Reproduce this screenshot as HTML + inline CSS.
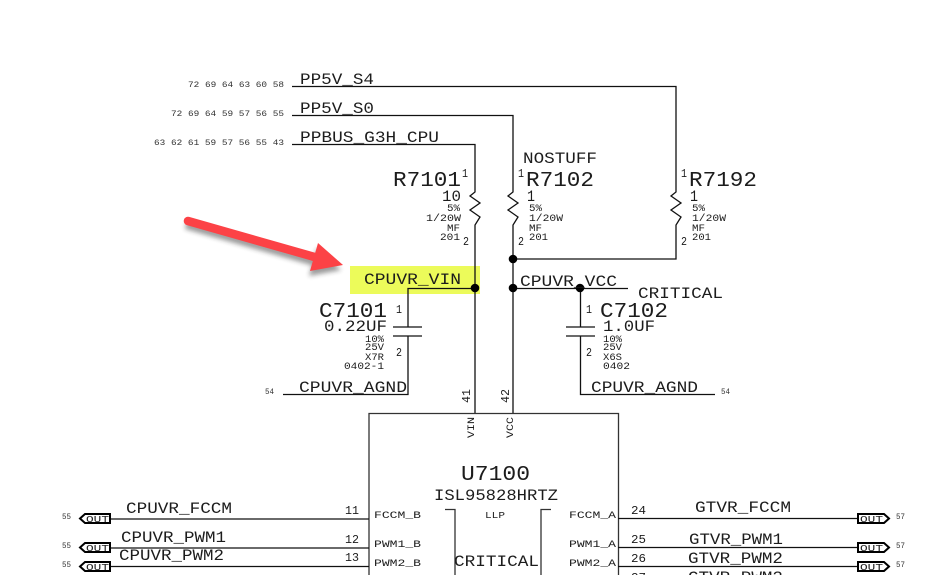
<!DOCTYPE html>
<html><head><meta charset="utf-8"><style>
html,body{margin:0;padding:0;background:#fff}
svg{display:block}
text{font-family:"Liberation Mono",monospace;fill:#1c1c1c;white-space:pre}
.l{font-size:16px}.h{font-size:21px}.s{font-size:10.5px}.t{font-size:8px;fill:#333}.p{font-size:11.5px}.o{font-size:9.5px;fill:#222}
.w{fill:none;stroke:#111;stroke-width:1.3}
.g{fill:none;stroke:#333;stroke-width:1.3}
</style></head><body>
<svg width="941" height="575" viewBox="0 0 941 575" xmlns="http://www.w3.org/2000/svg">
<defs><filter id="b" x="-10%" y="-30%" width="120%" height="160%"><feGaussianBlur stdDeviation="2.5"/></filter></defs>
<rect x="350" y="266" width="130" height="28" fill="#ecfb5a"/>
<g opacity=".45" transform="translate(-1,5)" filter="url(#b)"><path d="M187 220L316 257" stroke="#222" stroke-width="8" fill="none"/><path d="M318 243L342 265L310 271Z" fill="#222"/></g>
<path d="M188 221L318 258" stroke="#fc4246" stroke-width="8.5" stroke-linecap="round" fill="none"/>
<path d="M318 243L343 265L310 271Z" fill="#fc4246"/>

<path class="w" d="M292 86.5H676V192L671 196L681 203L671 210L681 217L676 225V259H513"/>
<path class="w" d="M292 115.5H513V192L508 196L518 203L508 210L518 217L513 225V413"/>
<path class="w" d="M292 144.5H475V192L470 196L480 203L470 210L480 217L475 225V413"/>
<path class="w" d="M475 288.5H408V327M408 336V394.5H283M393 327H422M393 336H422"/>
<path class="w" d="M513 288.5H628M580.5 288.5V327M580.5 336V394.5H715M566 327H595M566 336H595"/>
<circle cx="475" cy="288" r="4.3" fill="#000"/><circle cx="513" cy="259" r="4.3" fill="#000"/><circle cx="513" cy="288" r="4.3" fill="#000"/><circle cx="580" cy="288" r="4.3" fill="#000"/>
<path class="g" d="M369 575V413.5H618.5V575"/>
<path class="g" d="M445 509.5H455V575M551 509.5H541V575"/>
<path class="w" d="M82 519H369M82 548H369M82 566.5H369M618 518.5H860M618 547.5H860M618 566.5H860"/>

<g fill="#fff" stroke="#000" stroke-width="2">
<path d="M80 518.5L85 514H110V523H85Z"/><path d="M80 547.5L85 543H110V552H85Z"/><path d="M80 566.5L85 562H110V571H85Z"/>
<path d="M858 514H884L889 518.5L884 523H858Z"/><path d="M858 543H884L889 547.5L884 552H858Z"/><path d="M858 562H884L889 566.5L884 571H858Z"/>
</g>

<text class="t" x="188" y="87" textLength="96" lengthAdjust="spacingAndGlyphs">72 69 64 63 60 58</text>
<text class="t" x="171" y="116" textLength="113" lengthAdjust="spacingAndGlyphs">72 69 64 59 57 56 55</text>
<text class="t" x="154" y="145" textLength="130" lengthAdjust="spacingAndGlyphs">63 62 61 59 57 56 55 43</text>
<text class="t" x="265" y="394" textLength="9" lengthAdjust="spacingAndGlyphs">54</text>
<text class="t" x="721" y="394" textLength="9" lengthAdjust="spacingAndGlyphs">54</text>
<text class="t" x="62" y="519" textLength="9" lengthAdjust="spacingAndGlyphs">55</text>
<text class="t" x="62" y="548" textLength="9" lengthAdjust="spacingAndGlyphs">55</text>
<text class="t" x="62" y="567" textLength="9" lengthAdjust="spacingAndGlyphs">55</text>
<text class="t" x="896" y="519" textLength="9" lengthAdjust="spacingAndGlyphs">57</text>
<text class="t" x="896" y="548" textLength="9" lengthAdjust="spacingAndGlyphs">57</text>
<text class="t" x="896" y="567" textLength="9" lengthAdjust="spacingAndGlyphs">57</text>

<text class="l" x="300" y="84" textLength="74" lengthAdjust="spacingAndGlyphs">PP5V_S4</text>
<text class="l" x="300" y="113" textLength="74" lengthAdjust="spacingAndGlyphs">PP5V_S0</text>
<text class="l" x="300" y="142" textLength="139" lengthAdjust="spacingAndGlyphs">PPBUS_G3H_CPU</text>
<text class="l" x="523" y="163" textLength="74" lengthAdjust="spacingAndGlyphs">NOSTUFF</text>

<text class="h" x="393" y="186" textLength="68" lengthAdjust="spacingAndGlyphs">R7101</text>
<text class="p" x="462" y="177" textLength="6" lengthAdjust="spacingAndGlyphs">1</text>
<text class="l" x="442" y="201" textLength="19" lengthAdjust="spacingAndGlyphs">10</text>
<text class="s" x="447" y="211" textLength="13" lengthAdjust="spacingAndGlyphs">5%</text>
<text class="s" x="426" y="221" textLength="35" lengthAdjust="spacingAndGlyphs">1/20W</text>
<text class="s" x="447" y="231" textLength="13" lengthAdjust="spacingAndGlyphs">MF</text>
<text class="s" x="440" y="240" textLength="20" lengthAdjust="spacingAndGlyphs">201</text>
<text class="p" x="463" y="245" textLength="6" lengthAdjust="spacingAndGlyphs">2</text>

<text class="h" x="526" y="186" textLength="68" lengthAdjust="spacingAndGlyphs">R7102</text>
<text class="p" x="518" y="177" textLength="6" lengthAdjust="spacingAndGlyphs">1</text>
<text class="l" x="527" y="201" textLength="8" lengthAdjust="spacingAndGlyphs">1</text>
<text class="s" x="529" y="211" textLength="13" lengthAdjust="spacingAndGlyphs">5%</text>
<text class="s" x="529" y="221" textLength="34" lengthAdjust="spacingAndGlyphs">1/20W</text>
<text class="s" x="529" y="231" textLength="13" lengthAdjust="spacingAndGlyphs">MF</text>
<text class="s" x="529" y="240" textLength="19" lengthAdjust="spacingAndGlyphs">201</text>
<text class="p" x="518" y="245" textLength="6" lengthAdjust="spacingAndGlyphs">2</text>

<text class="h" x="689" y="186" textLength="68" lengthAdjust="spacingAndGlyphs">R7192</text>
<text class="p" x="681" y="177" textLength="6" lengthAdjust="spacingAndGlyphs">1</text>
<text class="l" x="690" y="201" textLength="8" lengthAdjust="spacingAndGlyphs">1</text>
<text class="s" x="692" y="211" textLength="13" lengthAdjust="spacingAndGlyphs">5%</text>
<text class="s" x="692" y="221" textLength="34" lengthAdjust="spacingAndGlyphs">1/20W</text>
<text class="s" x="692" y="231" textLength="13" lengthAdjust="spacingAndGlyphs">MF</text>
<text class="s" x="692" y="240" textLength="19" lengthAdjust="spacingAndGlyphs">201</text>
<text class="p" x="681" y="245" textLength="6" lengthAdjust="spacingAndGlyphs">2</text>

<text class="l" x="364" y="284" textLength="97" lengthAdjust="spacingAndGlyphs">CPUVR_VIN</text>
<text class="l" x="520" y="286" textLength="97" lengthAdjust="spacingAndGlyphs">CPUVR_VCC</text>
<text class="l" x="638" y="298" textLength="85" lengthAdjust="spacingAndGlyphs">CRITICAL</text>

<text class="h" x="319" y="317" textLength="68" lengthAdjust="spacingAndGlyphs">C7101</text>
<text class="l" x="324" y="331" textLength="63" lengthAdjust="spacingAndGlyphs">0.22UF</text>
<text class="s" x="365" y="342" textLength="19" lengthAdjust="spacingAndGlyphs">10%</text>
<text class="s" x="365" y="350" textLength="19" lengthAdjust="spacingAndGlyphs">25V</text>
<text class="s" x="365" y="360" textLength="19" lengthAdjust="spacingAndGlyphs">X7R</text>
<text class="s" x="344" y="369" textLength="40" lengthAdjust="spacingAndGlyphs">0402-1</text>
<text class="p" x="396" y="313" textLength="6" lengthAdjust="spacingAndGlyphs">1</text>
<text class="p" x="396" y="356" textLength="6" lengthAdjust="spacingAndGlyphs">2</text>
<text class="l" x="299" y="392" textLength="108" lengthAdjust="spacingAndGlyphs">CPUVR_AGND</text>

<text class="h" x="600" y="317" textLength="68" lengthAdjust="spacingAndGlyphs">C7102</text>
<text class="l" x="603" y="331" textLength="52" lengthAdjust="spacingAndGlyphs">1.0UF</text>
<text class="s" x="603" y="342" textLength="19" lengthAdjust="spacingAndGlyphs">10%</text>
<text class="s" x="603" y="350" textLength="19" lengthAdjust="spacingAndGlyphs">25V</text>
<text class="s" x="603" y="360" textLength="19" lengthAdjust="spacingAndGlyphs">X6S</text>
<text class="s" x="603" y="369" textLength="27" lengthAdjust="spacingAndGlyphs">0402</text>
<text class="p" x="586" y="313" textLength="6" lengthAdjust="spacingAndGlyphs">1</text>
<text class="p" x="586" y="356" textLength="6" lengthAdjust="spacingAndGlyphs">2</text>
<text class="l" x="591" y="392" textLength="107" lengthAdjust="spacingAndGlyphs">CPUVR_AGND</text>

<text class="p" transform="translate(470,403) rotate(-90)" textLength="14" lengthAdjust="spacingAndGlyphs">41</text>
<text class="p" transform="translate(509,403) rotate(-90)" textLength="14" lengthAdjust="spacingAndGlyphs">42</text>
<text class="s" transform="translate(474,438) rotate(-90)" textLength="21" lengthAdjust="spacingAndGlyphs">VIN</text>
<text class="s" transform="translate(513,438) rotate(-90)" textLength="21" lengthAdjust="spacingAndGlyphs">VCC</text>

<text class="h" x="461" y="480" textLength="69" lengthAdjust="spacingAndGlyphs">U7100</text>
<text class="l" x="434" y="500" textLength="124" lengthAdjust="spacingAndGlyphs">ISL95828HRTZ</text>
<text class="o" x="485" y="518" textLength="20" lengthAdjust="spacingAndGlyphs">LLP</text>
<text class="l" x="454" y="566" textLength="85" lengthAdjust="spacingAndGlyphs">CRITICAL</text>

<text class="l" x="126" y="513" textLength="106" lengthAdjust="spacingAndGlyphs">CPUVR_FCCM</text>
<text class="l" x="121" y="542" textLength="105" lengthAdjust="spacingAndGlyphs">CPUVR_PWM1</text>
<text class="l" x="119" y="560" textLength="105" lengthAdjust="spacingAndGlyphs">CPUVR_PWM2</text>
<text class="p" x="345" y="514" textLength="14" lengthAdjust="spacingAndGlyphs">11</text>
<text class="p" x="345" y="543" textLength="14" lengthAdjust="spacingAndGlyphs">12</text>
<text class="p" x="345" y="561" textLength="14" lengthAdjust="spacingAndGlyphs">13</text>
<text class="s" x="374" y="518" textLength="47" lengthAdjust="spacingAndGlyphs">FCCM_B</text>
<text class="s" x="374" y="547" textLength="47" lengthAdjust="spacingAndGlyphs">PWM1_B</text>
<text class="s" x="374" y="566" textLength="47" lengthAdjust="spacingAndGlyphs">PWM2_B</text>
<text class="o" x="86" y="522" textLength="23" lengthAdjust="spacingAndGlyphs">OUT</text>
<text class="o" x="86" y="551" textLength="23" lengthAdjust="spacingAndGlyphs">OUT</text>
<text class="o" x="86" y="570" textLength="23" lengthAdjust="spacingAndGlyphs">OUT</text>

<text class="l" x="695" y="512" textLength="96" lengthAdjust="spacingAndGlyphs">GTVR_FCCM</text>
<text class="l" x="689" y="544" textLength="94" lengthAdjust="spacingAndGlyphs">GTVR_PWM1</text>
<text class="l" x="688" y="563" textLength="95" lengthAdjust="spacingAndGlyphs">GTVR_PWM2</text>
<text class="l" x="688" y="582" textLength="95" lengthAdjust="spacingAndGlyphs">GTVR_PWM3</text>
<text class="p" x="631" y="514" textLength="15" lengthAdjust="spacingAndGlyphs">24</text>
<text class="p" x="631" y="543" textLength="15" lengthAdjust="spacingAndGlyphs">25</text>
<text class="p" x="631" y="562" textLength="15" lengthAdjust="spacingAndGlyphs">26</text>
<text class="p" x="631" y="581" textLength="15" lengthAdjust="spacingAndGlyphs">27</text>
<text class="s" x="569" y="518" textLength="47" lengthAdjust="spacingAndGlyphs">FCCM_A</text>
<text class="s" x="569" y="547" textLength="47" lengthAdjust="spacingAndGlyphs">PWM1_A</text>
<text class="s" x="569" y="566" textLength="47" lengthAdjust="spacingAndGlyphs">PWM2_A</text>
<text class="o" x="860" y="522" textLength="23" lengthAdjust="spacingAndGlyphs">OUT</text>
<text class="o" x="860" y="551" textLength="23" lengthAdjust="spacingAndGlyphs">OUT</text>
<text class="o" x="860" y="570" textLength="23" lengthAdjust="spacingAndGlyphs">OUT</text>
</svg>
</body></html>
